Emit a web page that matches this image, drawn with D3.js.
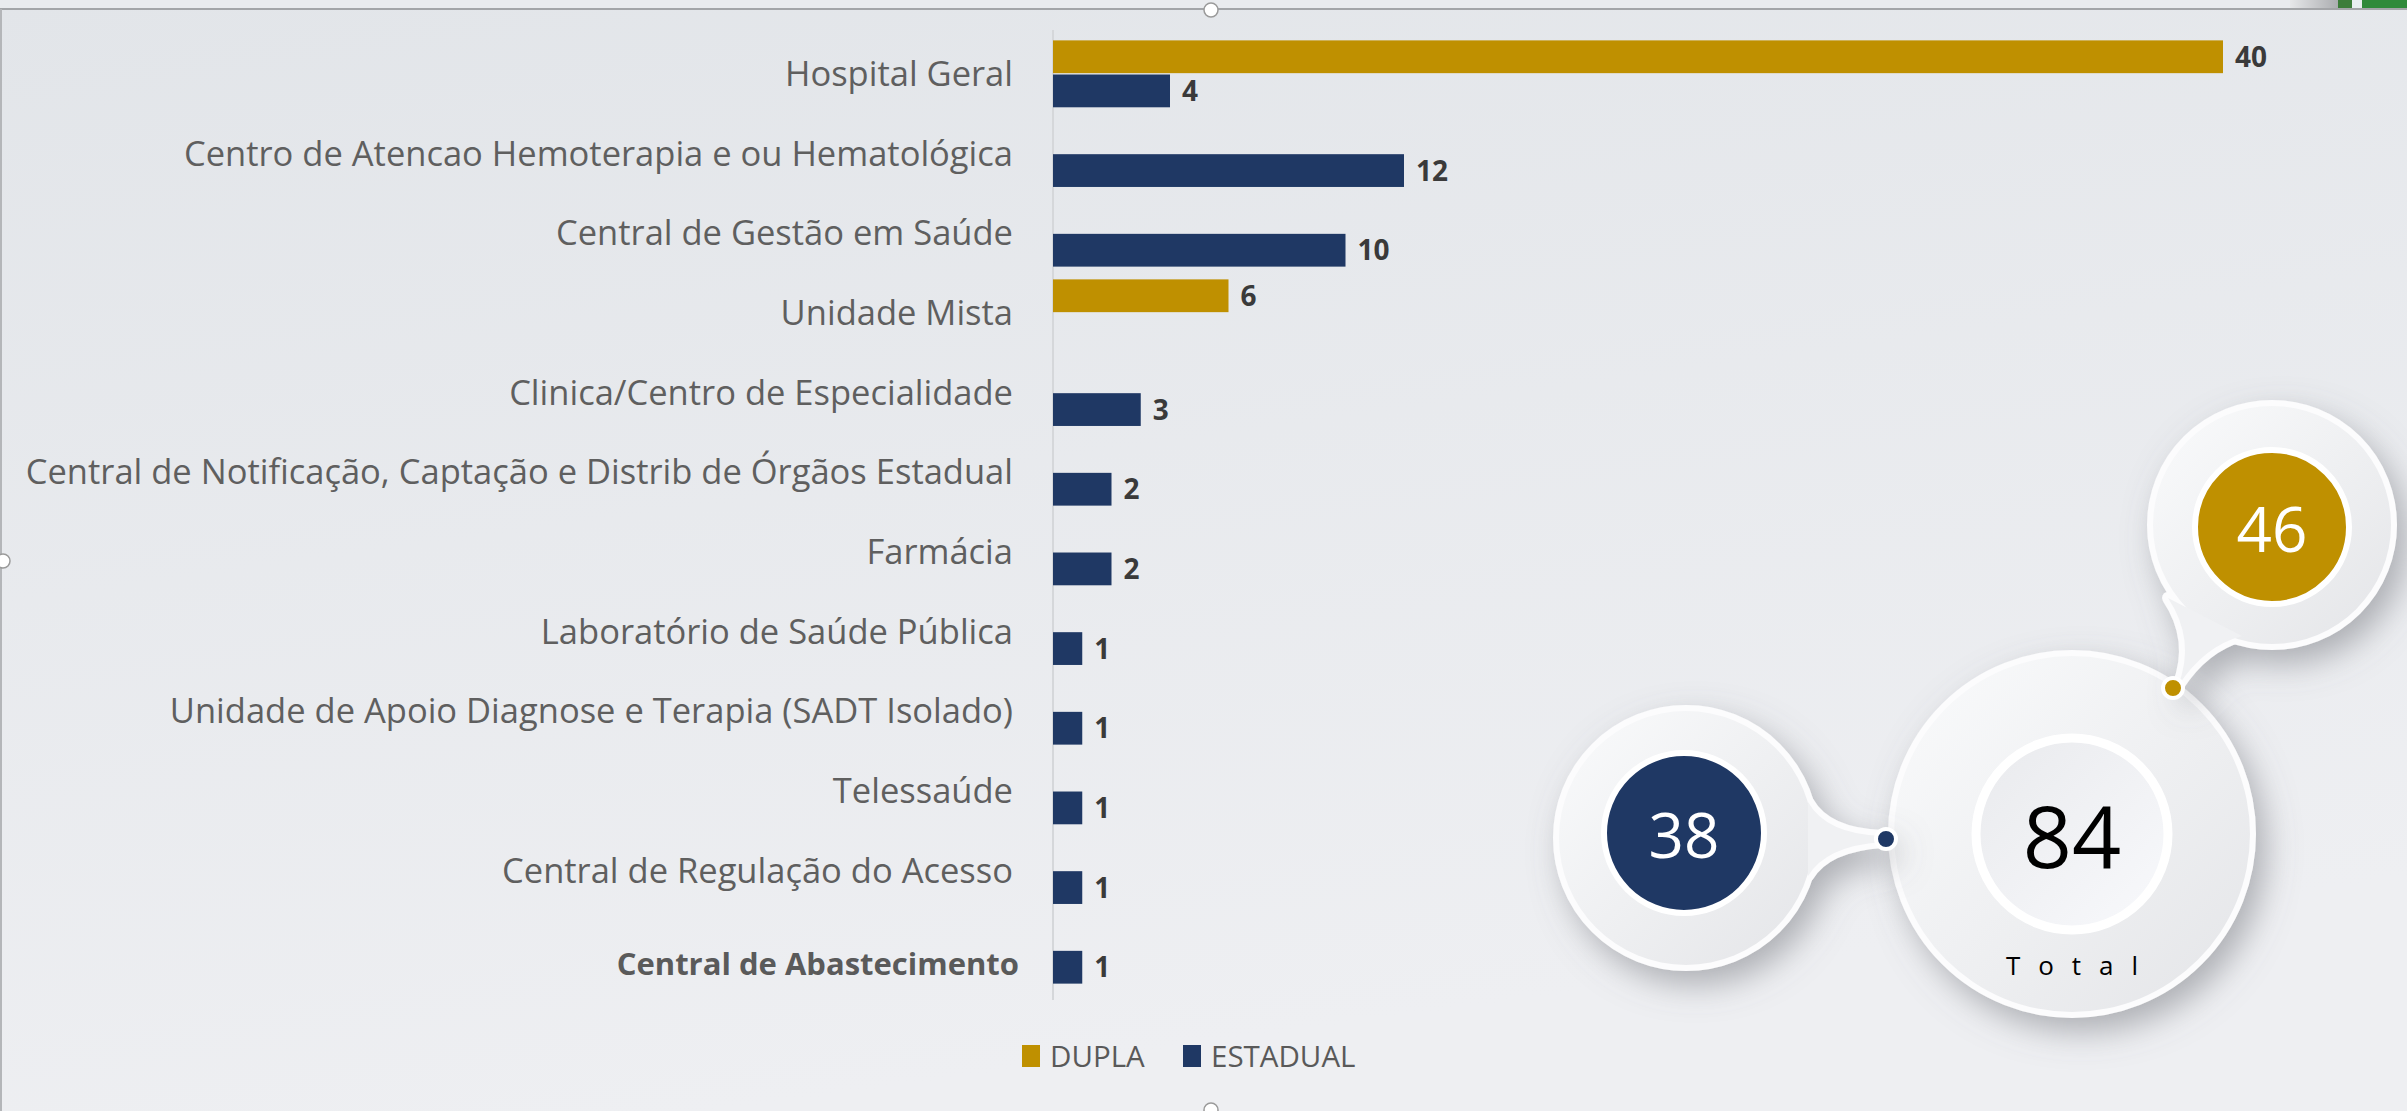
<!DOCTYPE html>
<html lang="pt">
<head>
<meta charset="UTF-8"/>
<title>Estabelecimentos por gestão</title>
<script src="https://d3js.org/d3.v7.min.js"></script>
<style>
	body { margin: 0; background: #e6e8ec; }
	svg { display: block; font-family: "Open Sans", "Noto Sans", sans-serif; }
</style>
</head>
<body>
<script>
	var w = 2407;
	var h = 1111;

	// data
	var categories = [
		"Hospital Geral",
		"Centro de Atencao Hemoterapia e ou Hematológica",
		"Central de Gestão em Saúde",
		"Unidade Mista",
		"Clinica/Centro de Especialidade",
		"Central de Notificação, Captação e Distrib de Órgãos Estadual",
		"Farmácia",
		"Laboratório de Saúde Pública",
		"Unidade de Apoio Diagnose e Terapia (SADT Isolado)",
		"Telessaúde",
		"Central de Regulação do Acesso",
		"Central de Abastecimento"
	];
	var dupla    = [40, null, null, 6, null, null, null, null, null, null, null, null];
	var estadual = [4, 12, 10, null, 3, 2, 2, 1, 1, 1, 1, 1];
	var seriesNames = ["DUPLA", "ESTADUAL"];
	var colors = ["#bf9000", "#1f3864"];

	var svg = d3.select("body")
				.append("svg")
				.attr("width", w)
				.attr("height", h);

	var defs = svg.append("defs");

	var bg = defs.append("linearGradient").attr("id", "bg")
				.attr("x1", 0).attr("y1", 0).attr("x2", 0.3).attr("y2", 1);
	bg.append("stop").attr("offset", "0%").attr("stop-color", "#e2e5e9");
	bg.append("stop").attr("offset", "100%").attr("stop-color", "#eeeff2");

	var bub = defs.append("linearGradient").attr("id", "bub")
				.attr("x1", 0).attr("y1", 0).attr("x2", 1).attr("y2", 1);
	bub.append("stop").attr("offset", "0%").attr("stop-color", "#fafbfc");
	bub.append("stop").attr("offset", "100%").attr("stop-color", "#e4e5e8");

	var inner = defs.append("linearGradient").attr("id", "inner")
				.attr("x1", 0).attr("y1", 0).attr("x2", 1).attr("y2", 1);
	inner.append("stop").attr("offset", "0%").attr("stop-color", "#e9eaed");
	inner.append("stop").attr("offset", "100%").attr("stop-color", "#f8f9fc");

	var corner = defs.append("linearGradient").attr("id", "corner");
	corner.append("stop").attr("offset", "0%").attr("stop-color", "#e6e7e9");
	corner.append("stop").attr("offset", "100%").attr("stop-color", "#a9abae");

	var shadow = defs.append("filter").attr("id", "shadow")
				.attr("x", "-30%").attr("y", "-30%").attr("width", "170%").attr("height", "170%");
	shadow.append("feDropShadow")
		.attr("dx", 10).attr("dy", 14).attr("stdDeviation", 16)
		.attr("flood-color", "#6e7078").attr("flood-opacity", 0.5);

	//background and frame
	svg.append("rect").attr("width", w).attr("height", h).attr("fill", "url(#bg)");
	svg.append("rect").attr("width", w).attr("height", 9).attr("fill", "#e9ebee");
	svg.append("rect").attr("x", 2290).attr("width", 50).attr("height", 9).attr("fill", "url(#corner)");
	svg.append("rect").attr("x", 2340).attr("width", 67).attr("height", 9).attr("fill", "#e8eef0");
	svg.append("rect").attr("x", 2338).attr("width", 14).attr("height", 9).attr("fill", "#3c7d3a");
	svg.append("rect").attr("x", 2362).attr("width", 45).attr("height", 9).attr("fill", "#2f8a3a");
	svg.append("line").attr("x1", 0).attr("x2", w).attr("y1", 9).attr("y2", 9)
		.attr("stroke", "#a3a5a8").attr("stroke-width", 2);
	svg.append("line").attr("x1", 1).attr("x2", 1).attr("y1", 9).attr("y2", h)
		.attr("stroke", "#b4b6b9").attr("stroke-width", 2);
	[[1211, 10], [3, 561], [1211, 1110]].forEach(function(p){
		svg.append("circle").attr("cx", p[0]).attr("cy", p[1]).attr("r", 7)
			.attr("fill", "#fff").attr("stroke", "#9a9a9a").attr("stroke-width", 1.5);
	});

	//scales
	var xScale = d3.scaleLinear()
					.domain([0, 40])
					.range([1053, 2223]);

	var yScale = d3.scaleBand()
					.domain(categories)
					.range([34, 990])
					.paddingInner(0.16)
					.paddingOuter(0.08);

	var subScale = d3.scaleBand()
					.domain(seriesNames)
					.range([0, yScale.bandwidth()])
					.paddingInner(0.04);

	//axis line
	svg.append("g")
		.attr("transform", "translate(" + xScale(0) + ", 0)")
		.call(d3.axisLeft(yScale).tickSize(0).tickFormat(""))
		.call(function(g){
			g.select(".domain").attr("stroke", "#d5d7da").attr("stroke-width", 2)
				.attr("d", "M0,30V1000");
		});

	//category labels
	var last = categories.length - 1;
	svg.selectAll("text.cat")
		.data(categories)
		.enter()
		.append("text")
		.attr("class", "cat")
		.attr("x", function(d, i){ return i == last ? 1019 : 1013; })
		.attr("y", function(d, i){
			return yScale(d) + yScale.bandwidth() / 2 + (i == last ? 14 : 0);
		})
		.attr("dy", "0.35em")
		.attr("text-anchor", "end")
		.attr("font-size", function(d, i){ return i == last ? 31 : 34.5; })
		.attr("font-weight", function(d, i){ return i == last ? "bold" : "normal"; })
		.attr("fill", function(d, i){ return i == last ? "#5a5a5a" : "#5f5f5f"; })
		.text(function(d){ return d; });

	//bars
	var rows = [];
	categories.forEach(function(c, i){
		[dupla[i], estadual[i]].forEach(function(v, s){
			if (v != null) rows.push({cat: c, s: s, v: v});
		});
	});

	svg.selectAll("rect.bar")
		.data(rows)
		.enter()
		.append("rect")
		.attr("class", "bar")
		.attr("x", xScale(0))
		.attr("y", function(d){ return yScale(d.cat) + subScale(seriesNames[d.s]); })
		.attr("width", function(d){ return xScale(d.v) - xScale(0); })
		.attr("height", subScale.bandwidth())
		.attr("fill", function(d){ return colors[d.s]; });

	svg.selectAll("text.val")
		.data(rows)
		.enter()
		.append("text")
		.attr("class", "val")
		.attr("x", function(d){ return xScale(d.v) + 12; })
		.attr("y", function(d){ return yScale(d.cat) + subScale(seriesNames[d.s]) + subScale.bandwidth() / 2; })
		.attr("dy", "0.36em")
		.attr("font-size", 28)
		.attr("font-weight", "bold")
		.attr("fill", "#3a3a3a")
		.text(function(d){ return d.v; });

	//legend
	var legend = svg.selectAll("g.leg")
		.data(seriesNames)
		.enter()
		.append("g")
		.attr("class", "leg")
		.attr("transform", function(d, i){ return "translate(" + [1022, 1183][i] + ", 1056)"; });
	legend.append("rect")
		.attr("y", -11).attr("width", 18).attr("height", 22)
		.attr("fill", function(d, i){ return colors[i]; });
	legend.append("text")
		.attr("x", 28).attr("dy", "0.36em")
		.attr("font-size", 29.5)
		.attr("fill", "#595959")
		.text(function(d){ return d; });

	//summary bubbles
	var totDupla = d3.sum(dupla);
	var totEstadual = d3.sum(estadual);
	var total = totDupla + totEstadual;

	var bubbles = svg.append("g");

	function bubble(cx, cy, r, tail){
		var g = bubbles.append("g").attr("filter", "url(#shadow)");
		g.append("circle").attr("cx", cx).attr("cy", cy).attr("r", r)
			.attr("fill", "#fff").attr("stroke", "#fcfcfd").attr("stroke-width", 12);
		if (tail) g.append("path").attr("d", tail)
			.attr("fill", "#fff").attr("stroke", "#fcfcfd").attr("stroke-width", 12)
			.attr("stroke-linejoin", "round");
		g.append("circle").attr("cx", cx).attr("cy", cy).attr("r", r)
			.attr("fill", "url(#bub)");
		if (tail) g.append("path").attr("d", tail).attr("fill", "#f0f1f3");
		return g;
	}

	bubble(2072, 834, 178, null);
	bubble(2272, 525, 119, "M2168,598 Q2196,640 2178,686 Q2204,646 2242,636 Z");
	bubble(1686, 838, 127, "M1808,802 Q1826,834 1882,836 L1882,842 Q1826,846 1808,876 Z");

	//inner circles
	bubbles.append("circle").attr("cx", 2072).attr("cy", 834).attr("r", 96)
		.attr("fill", "url(#inner)").attr("stroke", "#fff").attr("stroke-width", 9);
	bubbles.append("circle").attr("cx", 2272).attr("cy", 527).attr("r", 77)
		.attr("fill", colors[0]).attr("stroke", "#fff").attr("stroke-width", 6);
	bubbles.append("circle").attr("cx", 1684).attr("cy", 833).attr("r", 80)
		.attr("fill", colors[1]).attr("stroke", "#fff").attr("stroke-width", 6);

	//connector dots
	bubbles.append("circle").attr("cx", 2173).attr("cy", 688).attr("r", 10)
		.attr("fill", colors[0]).attr("stroke", "#fff").attr("stroke-width", 4);
	bubbles.append("circle").attr("cx", 1886).attr("cy", 839).attr("r", 10)
		.attr("fill", colors[1]).attr("stroke", "#fff").attr("stroke-width", 4);

	//numbers
	bubbles.append("text").attr("x", 2272).attr("y", 530).attr("dy", "0.35em")
		.attr("text-anchor", "middle").attr("font-size", 62).attr("fill", "#fff")
		.text(totDupla);
	bubbles.append("text").attr("x", 1684).attr("y", 836).attr("dy", "0.35em")
		.attr("text-anchor", "middle").attr("font-size", 62).attr("fill", "#fff")
		.text(totEstadual);
	bubbles.append("text").attr("x", 2072).attr("y", 838).attr("dy", "0.35em")
		.attr("text-anchor", "middle").attr("font-size", 86).attr("fill", "#000")
		.text(total);
	bubbles.append("text").attr("x", 2081).attr("y", 966).attr("dy", "0.35em")
		.attr("text-anchor", "middle").attr("font-size", 26).attr("fill", "#000")
		.attr("letter-spacing", 18)
		.text("Total");
</script>
</body>
</html>
